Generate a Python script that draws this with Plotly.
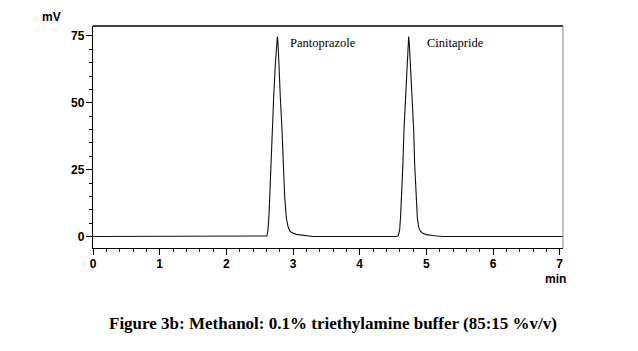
import plotly.graph_objects as go

# Chromatogram trace (time in min, signal in mV)
time_min = [0.0, 1.0, 2.0, 2.55, 2.60, 2.61, 2.625, 2.64, 2.65, 2.67, 2.685, 2.71, 2.736, 2.755,
            2.766, 2.776, 2.786, 2.81, 2.835, 2.855, 2.875, 2.90, 2.925, 2.95, 2.976, 3.05,
            3.175, 3.3, 4.0, 4.55, 4.58, 4.60, 4.615, 4.63, 4.65, 4.665, 4.69, 4.71, 4.725,
            4.735, 4.745, 4.76, 4.785, 4.81, 4.825, 4.845, 4.865, 4.885, 4.91, 4.94, 5.0,
            5.12, 5.25, 6.0, 7.05]
signal_mv = [0.0, 0.0, 0.0, 0.0, 0.2, 0.3, 2.5, 8.0, 15.0, 28.0, 40.0, 52.0, 65.0, 72.0,
             74.8, 72.0, 65.0, 52.0, 40.0, 27.0, 15.0, 7.0, 3.7, 2.2, 1.5, 0.8,
             0.3, 0.0, 0.0, 0.0, 0.3, 2.5, 8.0, 15.0, 28.0, 40.0, 52.0, 65.0, 72.0,
             74.8, 72.0, 65.0, 52.0, 40.0, 27.0, 15.0, 7.0, 3.5, 2.0, 1.3, 0.7,
             0.3, 0.0, 0.0, 0.0]

peak_names = ["Pantoprazole", "Cinitapride"]
peak_label_x = [2.92, 4.98]
peak_label_y = [72.5, 72.5]

y_tickvals = [0, 25, 50, 75]
x_tickvals = [0, 1, 2, 3, 4, 5, 6, 7]

caption = "Figure 3b: Methanol: 0.1% triethylamine buffer (85:15 %v/v)"

tick_font = dict(family="Liberation Sans Narrow, Liberation Sans, Arial", size=12, color="#000",
                 weight="bold")

fig = go.Figure()
fig.add_trace(go.Scatter(x=time_min, y=signal_mv, mode="lines",
                         line=dict(color="#111", width=1.1), hoverinfo="skip", showlegend=False))

for name, lx, ly in zip(peak_names, peak_label_x, peak_label_y):
    fig.add_annotation(x=lx, y=ly, text=name, showarrow=False, xanchor="left", yanchor="middle",
                       font=dict(family="Liberation Serif, Times New Roman", size=12.5, color="#000"))

fig.add_annotation(xref="paper", yref="paper", x=-0.064, y=1.0, text="mV", showarrow=False,
                   xanchor="right", yanchor="bottom", font=tick_font)
fig.add_annotation(xref="paper", yref="paper", x=1.01, y=-0.098, text="min", showarrow=False,
                   xanchor="right", yanchor="top", font=tick_font)
fig.add_annotation(xref="paper", yref="paper", x=0.51, y=-0.29, text="<b>" + caption + "</b>",
                   showarrow=False, xanchor="center", yanchor="top",
                   font=dict(family="Liberation Serif, Times New Roman", size=17, color="#000"))

# top and right frame lines
fig.add_shape(type="line", xref="paper", yref="paper", x0=0, x1=1, y0=1, y1=1,
              line=dict(color="#000", width=1.3))
fig.add_shape(type="line", xref="paper", yref="paper", x0=1, x1=1, y0=0, y1=1,
              line=dict(color="#888", width=1))

fig.update_xaxes(range=[0, 7.05], tickvals=x_tickvals, ticks="outside", ticklen=6, tickwidth=1.3,
                 tickcolor="#000", showline=True, linecolor="#000", linewidth=1.3,
                 showgrid=False, zeroline=False, tickfont=tick_font, ticklabelstandoff=-2,
                 minor=dict(dtick=0.2, ticks="outside", ticklen=3, tickcolor="#000", tickwidth=1, showgrid=False))
fig.update_yaxes(range=[-4.3, 78.7], tickvals=y_tickvals, ticks="outside", ticklen=6, tickwidth=1.3,
                 tickcolor="#000", showline=True, linecolor="#000", linewidth=1.3,
                 showgrid=False, zeroline=False, tickfont=tick_font, ticklabelstandoff=-1,
                 minor=dict(dtick=5, ticks="outside", ticklen=3, tickcolor="#000", tickwidth=1, showgrid=False))

fig.update_layout(width=638, height=351, margin=dict(l=93, r=75, t=26, b=103),
                  paper_bgcolor="#fff", plot_bgcolor="#fff")

fig.write_html("out.html")
